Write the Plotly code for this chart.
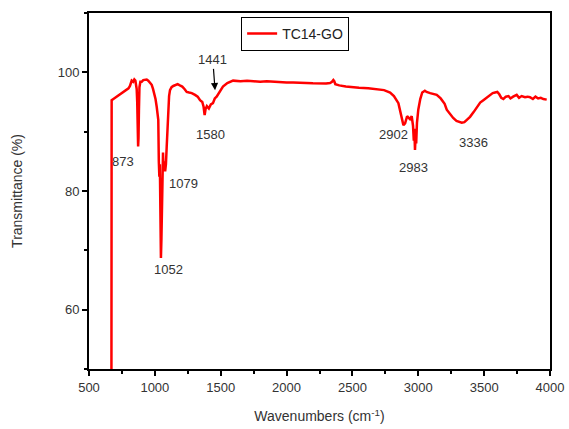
import plotly.graph_objects as go

# FTIR spectrum of TC14-GO
wavenumber = [670, 672, 685, 697, 720, 748, 770, 786, 800, 811, 824, 835, 844, 852, 857, 862, 866, 870, 873, 876, 879, 883, 890, 900, 912, 925, 938, 950, 963, 976, 986, 996, 1005, 1014, 1020, 1026, 1030, 1034, 1038, 1042, 1046, 1050, 1054, 1058, 1062, 1066, 1072, 1078, 1084, 1090, 1096, 1102, 1108, 1115, 1127, 1140, 1155, 1173, 1190, 1208, 1225, 1242, 1260, 1280, 1305, 1325, 1343, 1360, 1370, 1378, 1385, 1395, 1410, 1425, 1441, 1455, 1469, 1490, 1517, 1550, 1594, 1650, 1700, 1750, 1800, 1850, 1900, 1950, 2000, 2050, 2100, 2150, 2200, 2250, 2300, 2330, 2345, 2355, 2362, 2370, 2400, 2450, 2482, 2550, 2620, 2694, 2740, 2786, 2815, 2849, 2868, 2887, 2900, 2915, 2937, 2950, 2960, 2966, 2970, 2975, 2980, 2984, 2990, 3000, 3015, 3030, 3050, 3063, 3090, 3115, 3140, 3170, 3200, 3216, 3240, 3265, 3290, 3310, 3330, 3350, 3370, 3393, 3420, 3445, 3470, 3494, 3520, 3545, 3565, 3583, 3600, 3615, 3630, 3646, 3665, 3685, 3700, 3720, 3747, 3765, 3785, 3810, 3830, 3848, 3870, 3890, 3910, 3930, 3950, 3975, 4000]
transmittance = [40.0, 95.3, 95.5, 95.7, 96.0, 96.5, 96.8, 97.1, 97.3, 97.7, 98.6, 98.4, 98.8, 98.6, 98.0, 97.2, 95.0, 90.0, 87.5, 89.0, 93.5, 97.5, 98.4, 98.4, 98.7, 98.8, 98.8, 98.6, 98.2, 97.9, 97.2, 96.5, 95.5, 94.2, 93.0, 92.0, 85.0, 82.4, 84.5, 75.0, 68.7, 72.0, 80.0, 84.0, 86.5, 83.5, 85.0, 83.3, 84.5, 87.5, 91.5, 94.2, 96.0, 97.0, 97.5, 97.7, 97.9, 98.0, 97.8, 97.6, 97.2, 96.7, 96.6, 96.5, 96.2, 95.9, 95.3, 95.0, 94.2, 92.8, 93.8, 94.3, 93.9, 94.6, 94.8, 95.6, 95.9, 96.7, 97.6, 98.2, 98.6, 98.5, 98.6, 98.5, 98.4, 98.5, 98.4, 98.4, 98.3, 98.3, 98.2, 98.2, 98.15, 98.1, 98.1, 98.2, 98.4, 98.7, 98.5, 98.0, 97.8, 97.6, 97.5, 97.4, 97.3, 97.1, 97.0, 96.6, 96.0, 94.8, 93.0, 91.1, 91.4, 92.6, 92.1, 92.6, 91.0, 88.5, 90.5, 86.9, 89.5, 88.0, 91.5, 93.7, 95.5, 96.6, 96.9, 96.7, 96.5, 96.3, 96.2, 95.6, 94.7, 93.7, 93.0, 92.3, 91.8, 91.6, 91.5, 91.6, 92.0, 92.5, 93.3, 94.2, 94.9, 95.3, 95.8, 96.2, 96.5, 96.6, 96.7, 96.3, 95.7, 95.5, 95.9, 96.0, 95.6, 95.9, 96.2, 95.7, 96.0, 95.8, 95.9, 95.8, 95.5, 95.9, 95.6, 95.7, 95.5, 95.4]

peak_labels = ["873", "1079", "1052", "1580", "2902", "2983", "3336"]
label_x = [758, 1214, 1100, 1419, 2810, 2960, 3420]
label_y = [84.9, 81.3, 66.7, 89.6, 89.6, 84.0, 88.1]

arrow_label = "1441"
arrow_text_x, arrow_text_y = 1440, 102.1
arrow_tip_x, arrow_tip_y = 1457, 97.0

font_family = "Liberation Sans, Arial"

fig = go.Figure()
fig.add_trace(go.Scatter(
    x=wavenumber, y=transmittance, mode="lines", name="TC14-GO",
    line=dict(color="#ff0000", width=2.5),
))

for t, lx, ly in zip(peak_labels, label_x, label_y):
    fig.add_annotation(x=lx, y=ly, text=t, showarrow=False,
                       font=dict(family=font_family, size=13, color="#333333"))

# 1441 label with downward arrow
fig.add_annotation(x=arrow_tip_x, y=arrow_tip_y, ax=arrow_text_x, ay=arrow_text_y,
                   axref="x", ayref="y", text=arrow_label, showarrow=True,
                   arrowhead=2, arrowsize=1.2, arrowwidth=1.2, arrowcolor="black",
                   font=dict(family=font_family, size=13, color="#333333"))

axis_common = dict(
    showline=True, linecolor="black", linewidth=2, mirror=True,
    ticks="outside", tickcolor="black", tickwidth=1.5, ticklen=5,
    showgrid=False, zeroline=False, automargin=False,
    tickfont=dict(family=font_family, size=13, color="#333333"),
)

fig.update_layout(
    width=569, height=429,
    margin=dict(l=89, r=19, t=13, b=60),
    plot_bgcolor="white", paper_bgcolor="white",
    xaxis=dict(range=[500, 4000], dtick=500, tick0=500,
               minor=dict(dtick=250, ticks="outside", ticklen=3, tickcolor="black", tickwidth=1.5),
               title=dict(text="Wavenumbers (cm<sup>-1</sup>)", standoff=18,
                          font=dict(family=font_family, size=14, color="#333333")),
               **axis_common),
    yaxis=dict(range=[50, 110], dtick=20, tick0=0,
               minor=dict(dtick=10, ticks="outside", ticklen=3, tickcolor="black", tickwidth=1.5),
               title=dict(text="Transmittance (%)", standoff=32,
                          font=dict(family=font_family, size=14, color="#333333")),
               **axis_common),
    showlegend=True,
    legend=dict(x=0.33, y=0.989, xanchor="left", yanchor="top",
                bordercolor="black", borderwidth=1, bgcolor="white",
                font=dict(family=font_family, size=14, color="#222222"),
                tracegroupgap=0, itemwidth=30),
)

fig.write_html("out.html")
